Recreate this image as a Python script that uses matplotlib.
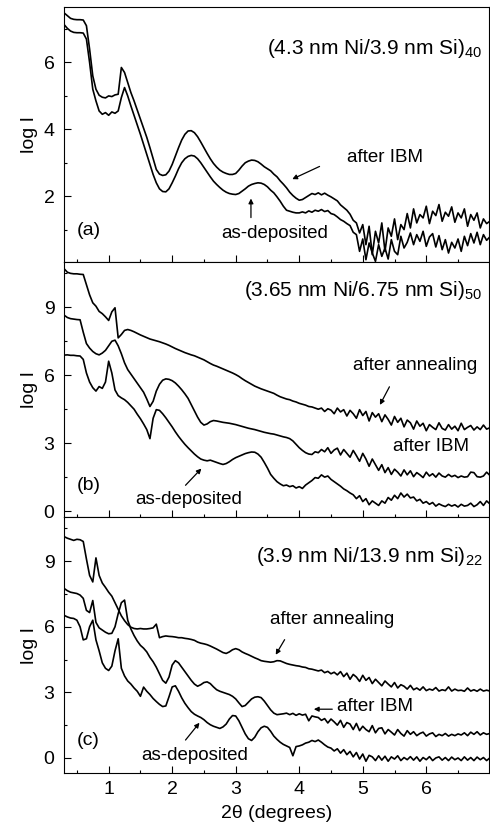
import numpy as np
import matplotlib
matplotlib.use("Agg")
import matplotlib.pyplot as plt
from matplotlib.ticker import MultipleLocator

plt.rcParams["font.family"] = ["Liberation Sans", "DejaVu Sans"]
plt.rcParams["mathtext.fontset"] = "custom"
plt.rcParams["mathtext.rm"] = "Liberation Sans"
plt.rcParams["mathtext.it"] = "Liberation Sans:italic"

# common 2theta grid (degrees), step 0.05 from 0.30 to 7.00
TWO_THETA = np.round(np.arange(0.30, 7.0001, 0.05), 2)

# ---- panel (a): (4.3 nm Ni/3.9 nm Si)40 ----
A_IBM = [
    7.48, 7.40, 7.32, 7.29, 7.28, 7.28, 7.27, 7.10, 6.40, 5.60,
    5.20, 5.02, 4.96, 4.94, 5.00, 4.98, 5.03, 5.05, 5.85, 5.70,
    5.40, 5.10, 4.85, 4.58, 4.32, 4.05, 3.76, 3.45, 3.12, 2.80,
    2.66, 2.62, 2.64, 2.75, 2.95, 3.20, 3.45, 3.68, 3.85, 3.95,
    3.96, 3.90, 3.78, 3.62, 3.45, 3.28, 3.12, 2.98, 2.87, 2.78,
    2.72, 2.68, 2.65, 2.65, 2.68, 2.78, 2.90, 3.00, 3.05, 3.08,
    3.07, 3.03, 2.96, 2.88, 2.82, 2.76, 2.66, 2.58, 2.46, 2.36,
    2.25, 2.12, 2.02, 1.94, 1.88, 1.90, 1.96, 2.02, 2.08, 2.05,
    2.10, 2.04, 2.09, 2.03, 1.98, 1.92, 1.86, 1.74, 1.66, 1.58,
    1.46, 1.28, 1.20, 0.90, 1.15, 0.55, 1.10, 0.25, 0.95, 0.60,
    1.20, 0.35, 1.05, 0.80, 1.32, 0.70, 1.15, 1.00, 1.48, 1.05,
    1.62, 1.20, 1.45, 1.35, 1.70, 1.18, 1.55, 1.42, 1.75, 1.25,
    1.52, 1.40, 1.68, 1.22, 1.50, 1.35, 1.62, 1.10, 1.45, 1.28,
    1.50, 1.05, 1.32, 1.18, 1.25,
]
A_ASDEP = [
    7.13, 7.02, 6.94, 6.90, 6.89, 6.89, 6.88, 6.70, 6.00, 5.20,
    4.85, 4.55, 4.45, 4.50, 4.42, 4.52, 4.48, 4.55, 4.95, 5.25,
    5.00, 4.70, 4.42, 4.15, 3.85, 3.55, 3.25, 2.95, 2.65, 2.40,
    2.22, 2.14, 2.13, 2.22, 2.40, 2.60, 2.82, 3.00, 3.12, 3.19,
    3.22, 3.20, 3.12, 3.00, 2.86, 2.72, 2.58, 2.45, 2.35, 2.26,
    2.18, 2.12, 2.08, 2.06, 2.05, 2.08, 2.15, 2.22, 2.30, 2.35,
    2.38, 2.40, 2.39, 2.35, 2.28, 2.18, 2.10, 1.98, 1.85, 1.70,
    1.58, 1.55, 1.52, 1.50, 1.50, 1.53, 1.50, 1.56, 1.52, 1.58,
    1.55, 1.60, 1.54, 1.57, 1.48, 1.45, 1.38, 1.30, 1.25, 1.18,
    1.12, 0.92, 0.85, 0.35, 0.72, 0.10, 0.60, 0.30, 0.05, 0.55,
    0.20, 0.45, 0.12, 0.70, 0.35, 0.25, 0.80, 0.45, 0.62, 0.90,
    0.55, 0.85, 0.65, 0.95, 0.50, 0.78, 0.88, 0.48, 0.82, 0.40,
    0.70, 0.30, 0.62, 0.45, 0.72, 0.35, 0.80, 0.52, 0.88, 0.60,
    0.92, 0.55, 0.85, 0.68, 0.78,
]

# ---- panel (b): (3.65 nm Ni/6.75 nm Si)50 ----
B_ANNEAL = [
    10.70, 10.55, 10.50, 10.48, 10.48, 10.46, 10.45, 10.00, 9.55, 9.20,
    9.05, 8.82, 8.72, 8.58, 8.42, 8.80, 8.98, 7.65, 7.80, 7.98,
    8.02, 7.98, 7.92, 7.85, 7.78, 7.72, 7.66, 7.60, 7.56, 7.52,
    7.48, 7.43, 7.38, 7.32, 7.25, 7.18, 7.12, 7.06, 7.00, 6.95,
    6.90, 6.86, 6.80, 6.74, 6.68, 6.60, 6.52, 6.45, 6.40, 6.34,
    6.28, 6.22, 6.16, 6.10, 6.03, 5.95, 5.85, 5.76, 5.68, 5.60,
    5.52, 5.46, 5.40, 5.35, 5.30, 5.25, 5.20, 5.12, 5.05, 5.00,
    4.95, 4.92, 4.86, 4.82, 4.76, 4.72, 4.68, 4.62, 4.60, 4.55,
    4.50, 4.55, 4.40, 4.52, 4.46, 4.30, 4.55, 4.38, 4.48, 4.20,
    4.45, 4.30, 4.10, 4.48, 4.22, 4.40, 3.98, 4.35, 4.15, 4.30,
    3.95, 4.25, 4.05, 3.80, 4.18, 3.92, 4.10, 3.72, 4.02, 3.90,
    3.62, 3.98, 3.75, 3.88, 3.55, 3.82, 3.70, 3.60, 3.90, 3.65,
    3.58, 3.82, 3.62, 3.75, 3.55, 3.88, 3.60, 3.70, 3.78, 3.58,
    3.72, 3.60, 3.80, 3.62, 3.68,
]
B_IBM = [
    8.65, 8.55, 8.50, 8.48, 8.46, 8.45, 7.90, 7.40, 7.20, 7.05,
    6.95, 6.90, 6.98, 7.10, 7.30, 7.50, 7.55, 7.30, 6.95, 6.55,
    6.25, 6.05, 5.85, 5.65, 5.45, 5.25, 4.95, 4.62, 4.85, 5.30,
    5.60, 5.78, 5.84, 5.82, 5.76, 5.66, 5.52, 5.36, 5.18, 4.98,
    4.70, 4.42, 4.15, 3.92, 3.80, 3.85, 3.95, 4.00, 3.98, 3.95,
    3.92, 3.90, 3.88, 3.85, 3.82, 3.78, 3.74, 3.70, 3.66, 3.63,
    3.60, 3.56, 3.52, 3.48, 3.45, 3.42, 3.40, 3.36, 3.32, 3.28,
    3.25, 3.20, 3.10, 2.95, 2.80, 2.68, 2.58, 2.52, 2.50, 2.62,
    2.58, 2.72, 2.62, 2.80, 2.55, 2.70, 2.78, 2.48, 2.72, 2.55,
    2.38, 2.68, 2.45, 2.20, 2.55, 2.30, 1.98, 2.30, 2.05, 1.80,
    2.05, 1.70, 1.92, 1.62, 1.85, 1.72, 1.55, 1.82, 1.60, 1.78,
    1.52, 1.70, 1.60, 1.48, 1.72, 1.55, 1.65, 1.50, 1.68, 1.55,
    1.50, 1.62, 1.52, 1.58, 1.48, 1.55, 1.50, 1.52, 1.72, 1.70,
    1.52, 1.50, 1.55, 1.72, 1.58,
]
B_ASDEP = [
    6.89, 6.90, 6.88, 6.88, 6.86, 6.85, 6.70, 6.10, 5.70, 5.45,
    5.30, 5.50, 5.42, 5.70, 6.62, 6.10, 5.35, 5.10, 5.00, 4.92,
    4.80, 4.65, 4.50, 4.28, 4.08, 3.85, 3.60, 3.20, 4.10, 4.48,
    4.45, 4.30, 4.12, 3.92, 3.72, 3.50, 3.30, 3.12, 2.95, 2.80,
    2.66, 2.52, 2.40, 2.30, 2.25, 2.22, 2.25, 2.20, 2.15, 2.10,
    2.06, 2.10, 2.18, 2.28, 2.36, 2.42, 2.48, 2.54, 2.58, 2.61,
    2.60, 2.52, 2.38, 2.15, 1.90, 1.62, 1.45, 1.30, 1.20, 1.12,
    1.15, 1.08, 1.12, 1.02, 1.08, 1.00, 1.15, 1.25, 1.35, 1.48,
    1.45, 1.60, 1.50, 1.55, 1.40, 1.30, 1.20, 1.10, 0.98, 0.90,
    0.80, 0.72, 0.55, 0.68, 0.42, 0.55, 0.28, 0.45, 0.35, 0.25,
    0.45, 0.35, 0.60, 0.48, 0.70, 0.55, 0.80, 0.62, 0.75, 0.58,
    0.62, 0.45, 0.52, 0.35, 0.42, 0.30, 0.38, 0.22, 0.32, 0.25,
    0.20, 0.30, 0.22, 0.28, 0.18, 0.30, 0.22, 0.25, 0.35, 0.20,
    0.28, 0.42, 0.25, 0.45, 0.32,
]

# ---- panel (c): (3.9 nm Ni/13.9 nm Si)22 ----
C_ANNEAL = [
    10.12, 10.05, 10.00, 9.95, 10.00, 9.98, 9.90, 9.10, 8.35, 8.05,
    9.15, 8.35, 8.00, 7.80, 7.58, 7.40, 7.10, 6.80, 6.50, 6.28,
    6.10, 5.98, 5.92, 5.90, 5.92, 5.90, 5.90, 5.92, 5.95, 6.12,
    5.50, 5.55, 5.58, 5.56, 5.55, 5.53, 5.50, 5.50, 5.47, 5.45,
    5.42, 5.38, 5.30, 5.25, 5.22, 5.18, 5.12, 5.05, 4.98, 4.90,
    4.82, 4.78, 4.85, 4.95, 5.00, 4.95, 4.85, 4.78, 4.72, 4.65,
    4.58, 4.52, 4.45, 4.42, 4.40, 4.38, 4.40, 4.45, 4.44, 4.38,
    4.32, 4.28, 4.25, 4.22, 4.20, 4.16, 4.14, 4.08, 4.06, 4.02,
    3.98, 4.02, 3.90, 3.96, 3.85, 3.92, 3.80, 3.95, 3.72, 3.88,
    3.60, 3.82, 3.70, 3.50, 3.78, 3.55, 3.68, 3.40, 3.60, 3.45,
    3.30, 3.52, 3.38, 3.25, 3.45, 3.20, 3.35, 3.28, 3.15, 3.32,
    3.12, 3.20, 3.10, 3.25, 3.08, 3.15, 3.10, 3.22, 3.06, 3.12,
    3.08, 3.25, 3.06, 3.15, 3.08, 3.10, 3.05, 3.20, 3.06, 3.12,
    3.05, 3.15, 3.06, 3.10, 3.06,
]
C_IBM = [
    7.75, 7.65, 7.58, 7.55, 7.52, 7.45, 7.30, 6.75, 6.65, 7.20,
    6.20, 5.95, 5.85, 5.75, 5.68, 5.70, 6.00, 6.60, 7.10, 7.22,
    6.30, 5.90, 5.60, 5.35, 5.15, 5.02, 4.85, 4.60, 4.40, 4.15,
    3.85, 3.55, 3.42, 3.70, 4.25, 4.45, 4.35, 4.15, 3.95, 3.75,
    3.55, 3.38, 3.28, 3.35, 3.45, 3.48, 3.40, 3.25, 3.12, 3.05,
    3.00, 2.95, 2.90, 2.82, 2.70, 2.52, 2.35, 2.40, 2.55, 2.70,
    2.78, 2.80, 2.76, 2.60, 2.40, 2.20, 2.05, 1.98, 2.00, 2.02,
    2.05, 1.98, 2.04, 1.95, 2.02, 1.96, 2.00, 1.70, 1.92, 1.88,
    1.85, 1.72, 1.80, 1.60, 1.78, 1.65, 1.50, 1.72, 1.40, 1.62,
    1.55, 1.30, 1.58, 1.25, 1.45, 1.30, 1.20, 1.48, 1.15, 1.35,
    1.38, 1.10, 1.30, 1.18, 1.05, 1.30, 1.12, 1.00, 1.25, 1.08,
    1.20, 1.02, 1.12, 1.18, 1.00, 1.10, 1.15, 0.98, 1.08, 1.02,
    1.12, 1.00, 1.08, 1.02, 1.10, 1.05, 1.15, 1.02, 1.18, 1.08,
    1.20, 1.05, 1.15, 1.08, 1.12,
]
C_ASDEP = [
    6.52, 6.45, 6.40, 6.38, 6.30, 6.00, 5.40, 5.45, 6.00, 6.30,
    5.40, 4.90, 4.35, 4.10, 4.00, 4.20, 4.90, 5.45, 4.10, 3.75,
    3.52, 3.38, 3.20, 3.05, 2.82, 3.24, 3.05, 2.90, 2.72, 2.58,
    2.45, 2.35, 2.38, 2.80, 3.25, 3.30, 3.05, 2.75, 2.50, 2.30,
    2.12, 2.00, 1.92, 1.85, 1.75, 1.62, 1.52, 1.45, 1.40, 1.35,
    1.42, 1.55, 1.78, 1.94, 1.92, 1.70, 1.40, 1.10, 0.88, 0.80,
    0.95, 1.20, 1.38, 1.45, 1.40, 1.22, 1.00, 0.85, 0.72, 0.62,
    0.55, 0.48, 0.10, 0.52, 0.55, 0.60, 0.68, 0.72, 0.80, 0.75,
    0.82, 0.72, 0.60, 0.50, 0.45, 0.32, 0.42, 0.22, 0.38, 0.15,
    0.30, 0.05, 0.25, -0.05, 0.18, -0.15, 0.12, 0.05, -0.12, 0.10,
    -0.10, 0.08, -0.15, 0.05, -0.05, 0.10, -0.12, 0.02, -0.08, 0.06,
    -0.10, 0.05, -0.15, 0.02, -0.08, 0.06, -0.12, 0.00, 0.05, -0.10,
    0.02, -0.12, 0.04, -0.08, 0.00, -0.12, 0.05, -0.10, 0.02, -0.12,
    0.04, -0.08, 0.02, -0.12, 0.00,
]

TITLES = [
    r"(4.3 nm Ni/3.9 nm Si)$_\mathrm{40}$",
    r"(3.65 nm Ni/6.75 nm Si)$_\mathrm{50}$",
    r"(3.9 nm Ni/13.9 nm Si)$_\mathrm{22}$",
]
TITLE_Y = [0.835, 0.89, 0.847]
PANEL_TAGS = ["(a)", "(b)", "(c)"]
CURVES = [
    [A_IBM, A_ASDEP],
    [B_ANNEAL, B_IBM, B_ASDEP],
    [C_ANNEAL, C_IBM, C_ASDEP],
]
YLIMS = [(0.03, 7.67), (-0.28, 11.0), (-0.68, 11.0)]

for group in CURVES:
    for c in group:
        assert len(c) == len(TWO_THETA)

fig, axes = plt.subplots(3, 1, figsize=(4.9, 8.31), dpi=100, sharex=True)
fig.subplots_adjust(left=0.131, right=0.997, top=0.992, bottom=0.07, hspace=0)

for ax, group, title, ty, tag, ylim in zip(axes, CURVES, TITLES, TITLE_Y,
                                           PANEL_TAGS, YLIMS):
    for c in group:
        ax.plot(TWO_THETA, c, color="black", lw=1.2)
    ax.set_xlim(0.3, 6.98)
    ax.set_ylim(*ylim)
    ax.set_ylabel("log I", fontsize=14, labelpad=4)
    ax.xaxis.set_major_locator(MultipleLocator(1))
    ax.xaxis.set_minor_locator(MultipleLocator(0.5))
    ax.tick_params(which="both", direction="in", top=False, right=False,
                   labelsize=14, width=0.8)
    ax.tick_params(axis="y", pad=7)
    ax.tick_params(axis="x", pad=6)
    ax.tick_params(which="major", length=5)
    ax.tick_params(which="minor", length=2.5)
    for s in ax.spines.values():
        s.set_linewidth(0.8)
    ax.text(0.03, 0.125, tag, transform=ax.transAxes, fontsize=14,
            va="center", ha="left")
    ax.text(0.985, ty, title, transform=ax.transAxes, fontsize=15,
            ha="right", va="center")

axes[0].yaxis.set_major_locator(MultipleLocator(2))
axes[0].yaxis.set_minor_locator(MultipleLocator(1))
for ax in axes[1:]:
    ax.yaxis.set_major_locator(MultipleLocator(3))
    ax.yaxis.set_minor_locator(MultipleLocator(1.5))

arrow = dict(arrowstyle="-|>", color="black", lw=0.9, mutation_scale=7,
             shrinkA=0, shrinkB=0)
lab = dict(fontsize=13.5, va="center", ha="left")

# (a)
axes[0].text(4.75, 3.16, "after IBM", **lab)
axes[0].annotate("", xy=(3.89, 2.51), xytext=(4.32, 2.89), arrowprops=arrow)
axes[0].text(2.78, 0.87, "as-deposited", **lab)
axes[0].annotate("", xy=(3.24, 1.93), xytext=(3.24, 1.36), arrowprops=arrow)

# (b)
axes[1].text(4.85, 6.44, "after annealing", **lab)
axes[1].annotate("", xy=(5.27, 4.69), xytext=(5.42, 5.49), arrowprops=arrow)
axes[1].text(5.48, 2.86, "after IBM", **lab)
axes[1].text(1.42, 0.52, "as-deposited", **lab)
axes[1].annotate("", xy=(2.46, 1.88), xytext=(2.21, 1.14), arrowprops=arrow)

# (c)
axes[2].text(3.54, 6.33, "after annealing", **lab)
axes[2].annotate("", xy=(3.63, 4.72), xytext=(3.77, 5.41), arrowprops=arrow)
axes[2].text(4.59, 2.35, "after IBM", **lab)
axes[2].annotate("", xy=(4.23, 2.23), xytext=(4.52, 2.23), arrowprops=arrow)
axes[2].text(1.52, 0.13, "as-deposited", **lab)
axes[2].annotate("", xy=(2.43, 1.61), xytext=(2.21, 0.82), arrowprops=arrow)

axes[2].set_xlabel("2\u03b8 (degrees)", fontsize=14, labelpad=5)

fig.savefig("out.png", dpi=100)
